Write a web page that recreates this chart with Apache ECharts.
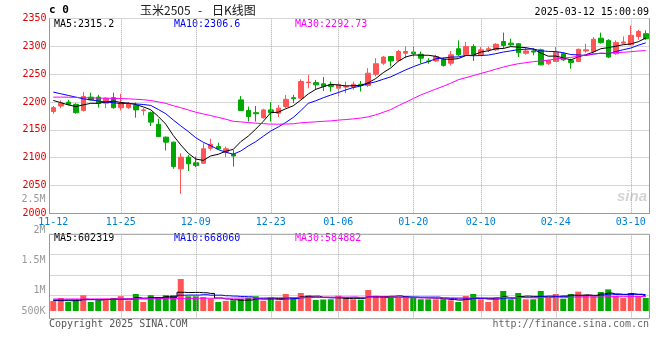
<!DOCTYPE html>
<html><head><meta charset="utf-8">
<script src="https://cdn.jsdelivr.net/npm/echarts@6/dist/echarts.min.js"></script>
<style>html,body{margin:0;padding:0;background:#fff}#c{width:660px;height:360px}</style>
</head><body><div id="c"></div>
<script>
const dates = ['11-12','11-13','11-14','11-15','11-18','11-19','11-20','11-21','11-22','11-25','11-26','11-27','11-28','11-29',
'12-02','12-03','12-04','12-05','12-06','12-09','12-10','12-11','12-12','12-13','12-16','12-17','12-18','12-19','12-20',
'12-23','12-24','12-25','12-26','12-27','12-30','12-31','01-02','01-03','01-06','01-07','01-08','01-09','01-10',
'01-13','01-14','01-15','01-16','01-17','01-20','01-21','01-22','01-23','01-24','01-27','02-05','02-06','02-07',
'02-10','02-11','02-12','02-13','02-14','02-17','02-18','02-19','02-20','02-21','02-24','02-25','02-26','02-27','02-28',
'03-03','03-04','03-05','03-06','03-07','03-10','03-11','03-12'];
const opens  = [2183,2193,2200,2196,2185,2209,2209,2198,2208,2190,2190,2194,2185,2181,2160,2137,2128,2080,2101,2091,
2090,2117,2120,2110,2106,2204,2185,2181,2172,2186,2180,2192,2208,2207,2235,2235,2233,2231,2225,2227,
2227,2232,2230,2250,2270,2282,2275,2288,2290,2286,2274,2274,2277,2270,2296,2285,2300,2285,2294,2294,
2309,2306,2305,2288,2292,2294,2269,2273,2287,2275,2273,2292,2291,2315,2311,2287,2306,2303,2318,2323];
const closes = [2190,2198,2196,2181,2210,2204,2198,2207,2190,2198,2197,2186,2186,2164,2138,2128,2084,2101,2089,2086,
2116,2124,2116,2116,2103,2185,2174,2179,2186,2181,2189,2205,2206,2237,2236,2231,2228,2228,2231,2228,
2232,2231,2252,2269,2281,2274,2291,2291,2287,2279,2273,2282,2266,2285,2285,2300,2286,2294,2296,2304,
2302,2303,2289,2292,2290,2267,2275,2290,2276,2271,2295,2294,2313,2307,2281,2307,2308,2320,2327,2314];
const lows   = [2179,2189,2194,2179,2183,2203,2190,2189,2188,2185,2188,2172,2176,2157,2137,2113,2080,2035,2076,2083,
2089,2113,2114,2101,2084,2184,2165,2165,2170,2165,2173,2189,2198,2205,2225,2222,2220,2219,2210,2216,
2222,2219,2227,2246,2267,2264,2273,2279,2281,2270,2269,2272,2264,2266,2283,2284,2274,2283,2290,2292,
2297,2300,2281,2285,2284,2266,2267,2272,2274,2260,2272,2289,2289,2305,2279,2285,2304,2302,2312,2312];
const highs  = [2193,2203,2204,2198,2218,2217,2213,2209,2217,2215,2200,2199,2189,2183,2170,2138,2129,2108,2105,2102,
2126,2134,2127,2120,2114,2211,2192,2193,2188,2200,2195,2213,2213,2241,2249,2240,2245,2237,2237,2237,
2237,2238,2261,2279,2283,2283,2294,2300,2300,2291,2279,2285,2280,2292,2311,2308,2304,2299,2300,2306,
2325,2314,2306,2299,2297,2296,2276,2299,2289,2278,2296,2305,2317,2325,2313,2311,2318,2338,2330,2329];
const ma5  = [2203,2199,2195,2192,2195.0,2197.8,2197.8,2200.0,2201.8,2199.4,2198.0,2195.6,2191.4,2186.2,2174.2,2160.4,
2140.0,2123.0,2108.0,2097.6,2095.2,2103.2,2106.2,2111.6,2115.0,2128.8,2138.8,2151.4,2165.4,2181.0,2181.8,2188.0,
2193.4,2203.6,2214.6,2223.0,2227.6,2232.0,2230.8,2229.2,2229.4,2230.0,2234.8,2242.4,2253.0,2261.4,2273.4,2281.2,
2284.8,2284.4,2284.2,2282.4,2277.4,2277.0,2278.2,2283.6,2284.4,2290.0,2292.2,2296.0,2296.4,2299.8,2298.8,2298.0,
2295.2,2288.2,2282.6,2282.8,2279.6,2275.8,2281.4,2285.2,2289.8,2296.0,2298.0,2300.4,2303.2,2304.6,2308.6,2315.2];
const ma10 = [2218,2215,2212,2209,2206,2204,2202,2200,2199,2197.2,2197.9,2196.7,2195.7,2194.0,2186.8,2179.2,
2167.8,2157.2,2147.1,2135.9,2127.8,2121.6,2114.6,2109.8,2106.3,2112.0,2121.0,2128.8,2138.5,2148.0,2155.3,2163.4,
2172.4,2184.5,2197.8,2202.4,2207.8,2212.7,2217.2,2221.9,2226.2,2228.8,2233.4,2236.6,2241.1,2245.4,2251.7,2258.0,
2263.6,2268.7,2272.8,2277.9,2279.3,2280.9,2281.3,2283.9,2283.4,2283.7,2284.6,2287.1,2290.0,2292.1,2294.4,2295.1,
2295.6,2292.3,2291.2,2290.8,2288.8,2285.5,2284.8,2283.9,2286.3,2287.8,2286.9,2290.9,2294.2,2297.2,2302.3,2306.6];
const ma30 = [2209,2209,2208.8,2208.5,2208,2207.6,2207.2,2206.9,2206.6,2206.3,2205.9,2205.1,2204.3,2202.8,2200.4,2197.7,
2193.5,2189.9,2185.9,2181.8,2178.7,2175.8,2172.5,2169.2,2165.5,2164.4,2163.2,2162.1,2161.2,2160.4,2160.3,2160.6,
2160.9,2162.8,2163.6,2164.5,2165.5,2166.2,2167.6,2168.6,2169.8,2171.3,2173.5,2177.0,2181.7,2186.6,2193.5,2199.8,
2206.4,2212.9,2218.1,2223.4,2228.4,2234.0,2240.1,2243.9,2247.6,2251.5,2255.1,2259.2,2263.0,2266.3,2269.0,2270.9,
2272.7,2273.9,2275.4,2277.5,2279.0,2280.4,2282.5,2284.6,2286.7,2287.9,2287.9,2289.0,2289.6,2290.6,2291.9,2292.7];
const volumes = [407000,529000,366000,435000,639000,366000,435000,480000,529000,605000,427000,692000,366000,645000,570000,645000,
645000,1302000,598000,598000,570000,509000,366000,407000,435000,488000,529000,602000,419000,558000,419000,692000,
501000,733000,643000,448000,468000,476000,623000,529000,476000,460000,855000,623000,529000,529000,529000,611000,
570000,476000,476000,476000,476000,435000,366000,611000,692000,476000,366000,529000,814000,476000,733000,476000,
476000,814000,529000,692000,501000,692000,790000,611000,600000,773000,880000,611000,529000,733000,611000,529000];
const volMa5 = [430000,425000,420000,425000,475200,467000,448200,471000,489800,483000,495200,546600,523800,547000,540000,583600,
574200,761400,752000,757600,742600,715400,528200,490000,457400,441000,445000,492200,494600,519200,505400,538000,
517800,580600,597600,603400,558600,553600,531600,508800,514400,512800,588600,588600,588600,599200,613000,564200,
553600,543000,532400,521800,494800,467800,445800,472800,516000,516000,502200,534800,575400,532200,583600,605600,
595000,595000,605600,597400,602400,645600,640800,657200,638800,693200,730800,695000,678600,705200,672800,602319];
const volMa10 = [450000,452000,455000,457000,460000,462000,465000,470000,475000,479100,481100,497400,497400,518400,511500,539400,
560400,642600,649500,648800,663100,644800,644800,621000,607500,591800,580200,510200,492300,488300,473200,491500,
505000,537600,558400,554400,548300,535700,556100,553200,558900,535700,571100,560100,548700,556800,562900,576400,
571100,565800,565800,567400,529500,510700,494400,502600,518900,505400,485000,490300,524100,524100,549800,553900,
564900,585200,568900,590500,604000,620300,617900,631400,618100,647800,688200,667900,667900,672000,683000,668060];
const volMa30 = [488000,489000,490000,490000,491000,492000,493000,494000,495000,496000,497000,498000,499000,500000,501000,502000,
504000,510000,513000,516000,519000,521000,522000,523000,525000,527000,529000,532000,535000,538700,539100,544600,
549100,559000,559100,561900,563000,562800,566000,563400,565100,557300,573600,572900,571500,567700,563800,540800,
539800,535800,532600,531500,535200,536100,533800,537900,543400,539200,537400,536400,549600,542400,550100,541600,
536000,548200,550200,557400,553400,558800,569300,574300,565800,570800,582500,585200,585200,589300,590700,584882];
const dateLabelIdx = [0,9,19,29,38,48,57,67,77];
const volTickLabels = ['500K','1M','1.5M','2M','2.5M'];
const volTickSlots = [0,2,5,8,11];
const titleText = ['玉米2505','-','日K线图'];
const stampText = '2025-03-12 15:00:09';
const maTexts = ['MA5:2315.2','MA10:2306.6','MA30:2292.73'];
const volMaTexts = ['MA5:602319','MA10:668060','MA30:584882'];

const MONO = '"DejaVu Sans Mono", monospace';
const CJK = '"Noto Sans CJK SC", sans-serif';
const UP = '#ff5555', DOWN = '#00a800';
const MA_COLORS = ['#000000', '#0000ff', '#ff00ff'];
const L = 49.5, W = 600;

const chart = echarts.init(document.getElementById('c'), null, {renderer: 'canvas'});
const candleData = dates.map((d, i) => [opens[i], closes[i], lows[i], highs[i]]);
const volData = volumes.map((v, i) => ({value: v, itemStyle: {color: closes[i] >= opens[i] ? UP : DOWN}}));
const vLines = {
  silent: true, symbol: ['none', 'none'], animation: false,
  label: {show: false},
  lineStyle: {color: '#aaa', type: 'dotted', width: 1},
  data: dateLabelIdx.filter(i => i > 0).map(i => ({xAxis: dates[i]}))
};
function maLine(name, data, color, xi, yi, step) {
  return {type: 'line', name, data, xAxisIndex: xi, yAxisIndex: yi, symbol: 'none', showSymbol: false,
    step: step || false, lineStyle: {width: 1, color}, itemStyle: {color}, z: 5, silent: true};
}
function txt(x, y, text, fill, font, align) {
  return {type: 'text', x, y, silent: true,
    style: {text, fill, font, align: align || 'left', verticalAlign: 'middle'}};
}

const option = {
  animation: false,
  grid: [
    {left: L, width: W, top: 18.7, height: 194.6, show: false},
    {left: L, width: W, top: 234.3, height: 84.4, show: true, borderColor: '#999', borderWidth: 1, backgroundColor: 'transparent'},
    {left: L, width: W, top: 199.9, height: 111.1, show: false},
    {left: L, width: W, top: 234.3, height: 61, show: false}
  ],
  xAxis: [
    {type: 'category', gridIndex: 0, data: dates, boundaryGap: true,
     axisLine: {lineStyle: {color: '#999'}}, axisTick: {show: false},
     axisLabel: {interval: (i) => dateLabelIdx.includes(i), color: '#0080d0', fontFamily: MONO, fontSize: 10, margin: 4},
     splitLine: {show: false}},
    {type: 'category', gridIndex: 1, data: dates, boundaryGap: true,
     axisLine: {show: false}, axisTick: {show: false}, axisLabel: {show: false}, splitLine: {show: false}},
    {type: 'value', gridIndex: 2, show: false, min: 0, max: 1},
    {type: 'value', gridIndex: 3, show: false, min: 0, max: 1}
  ],
  yAxis: [
    {type: 'value', gridIndex: 0, min: 2000, max: 2350, interval: 50,
     axisLine: {show: true, lineStyle: {color: '#999'}}, axisTick: {show: false},
     axisLabel: {color: '#e00000', fontFamily: MONO, fontSize: 10, margin: 3, padding: [0, 0, 3, 0],
       formatter: (v) => String(v)},
     splitLine: {show: true, lineStyle: {color: '#aaa', type: 'dotted'}}},
    {type: 'value', gridIndex: 0, position: 'right', min: 0, max: 1,
     axisLine: {show: true, lineStyle: {color: '#999'}}, axisTick: {show: false}, axisLabel: {show: false}, splitLine: {show: false}},
    {type: 'value', gridIndex: 1, min: -313000, max: 3122000, show: false, splitLine: {show: false}},
    {type: 'value', gridIndex: 2, min: 0, max: 11, interval: 1,
     axisLine: {show: false}, axisTick: {show: false}, splitLine: {show: false},
     axisLabel: {color: '#999', fontFamily: MONO, fontSize: 10, margin: 4,
       formatter: (v) => { const k = volTickSlots.indexOf(v); return k < 0 ? '' : volTickLabels[k]; }}},
    {type: 'value', gridIndex: 3, min: 0, max: 3, interval: 1, inverse: true,
     axisLine: {show: false}, axisTick: {show: false}, axisLabel: {show: false},
     splitLine: {show: true, lineStyle: {color: '#aaa', type: 'dotted'}}}
  ],
  series: [
    {type: 'candlestick', name: 'K', xAxisIndex: 0, yAxisIndex: 0, data: candleData, barWidth: 5,
     itemStyle: {color: UP, color0: DOWN, borderColor: UP, borderColor0: DOWN, borderWidth: 1},
     markLine: vLines, silent: true},
    maLine('MA5', ma5, MA_COLORS[0], 0, 0),
    maLine('MA10', ma10, MA_COLORS[1], 0, 0),
    maLine('MA30', ma30, MA_COLORS[2], 0, 0),
    {type: 'bar', name: 'VOL', xAxisIndex: 1, yAxisIndex: 2, data: volData, barWidth: 6, markLine: vLines, silent: true},
    maLine('VMA5', volMa5, MA_COLORS[0], 1, 2, 'middle'),
    maLine('VMA10', volMa10, MA_COLORS[1], 1, 2, 'middle'),
    maLine('VMA30', volMa30, MA_COLORS[2], 1, 2, 'middle')
  ],
  graphic: [
    txt(49, 10.5, 'c 0', '#000', 'bold 11px ' + MONO),
    txt(140, 10, titleText[0], '#222', '12px ' + CJK),
    txt(200, 10, titleText[1], '#222', '12px ' + CJK, 'center'),
    txt(212, 10, titleText[2], '#111', '12px ' + CJK),
    txt(649, 12, stampText, '#000', '10px ' + MONO, 'right'),
    txt(54, 24, maTexts[0], MA_COLORS[0], '10px ' + MONO),
    txt(174, 24, maTexts[1], MA_COLORS[1], '10px ' + MONO),
    txt(295, 24, maTexts[2], MA_COLORS[2], '10px ' + MONO),
    txt(54, 238, volMaTexts[0], MA_COLORS[0], '10px ' + MONO),
    txt(174, 238, volMaTexts[1], MA_COLORS[1], '10px ' + MONO),
    txt(295, 238, volMaTexts[2], MA_COLORS[2], '10px ' + MONO),
    txt(49, 324, 'Copyright 2025 SINA.COM', '#555', '10px ' + MONO),
    txt(649, 324, 'http://finance.sina.com.cn', '#666', '10px ' + MONO, 'right'),
    txt(632, 197, 'sina', '#d4d4d4', 'italic bold 15px "Liberation Sans", sans-serif', 'center')
  ]
};
chart.setOption(option);
</script>
</body></html>
